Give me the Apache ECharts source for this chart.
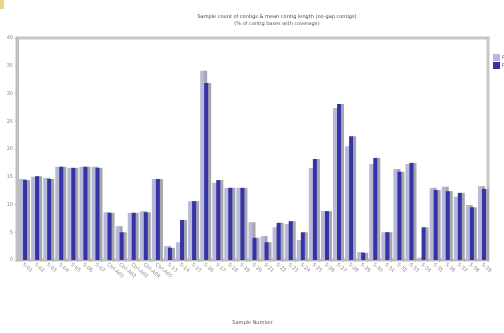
<!DOCTYPE html>
<html>
<head>
<meta charset="utf-8">
<script src="https://cdn.jsdelivr.net/npm/echarts@6/dist/echarts.min.js"></script>
<style>
  html, body { margin: 0; padding: 0; background: #ffffff; }
  #chart { width: 504px; height: 333px; }
</style>
</head>
<body>
<div id="chart"></div>
<script>
// Sample identifiers along the x axis
const categories = [
  'S-01', 'S-02', 'S-03', 'S-04', 'S-05', 'S-06', 'S-07',
  'Ctrl-A01', 'Ctrl-A02', 'Ctrl-A03', 'Ctrl-A04', 'Ctrl-A05',
  'S-13', 'S-14', 'S-15', 'S-16', 'S-17', 'S-18', 'S-19', 'S-20',
  'S-21', 'S-22', 'S-23', 'S-24', 'S-25', 'S-26', 'S-27', 'S-28',
  'S-29', 'S-30', 'S-31', 'S-32', 'S-33', 'S-34', 'S-35', 'S-36',
  'S-37', 'S-38', 'S-39'
];

// Values per sample for the two runs
const run1 = [
  14.6, 15.0, 14.8, 16.8, 16.6, 16.8, 16.8, 8.6, 6.1, 8.5, 8.8, 14.6,
  2.5, 3.2, 10.6, 34.1, 13.9, 13.0, 13.0, 6.8, 4.3, 5.9, 6.5, 3.6,
  16.6, 8.8, 27.4, 20.5, 1.4, 17.3, 5.0, 16.4, 17.3, 0.4, 13.0, 13.2,
  11.4, 9.9, 13.3
];
const run2 = [
  14.4, 15.1, 14.6, 16.8, 16.6, 16.8, 16.6, 8.5, 5.0, 8.5, 8.6, 14.6,
  2.2, 7.2, 10.6, 31.9, 14.4, 13.0, 13.0, 4.0, 3.2, 6.7, 7.0, 5.0,
  18.2, 8.8, 28.1, 22.3, 1.3, 18.4, 5.0, 15.9, 17.5, 5.9, 12.6, 12.4,
  12.1, 9.5, 12.8
];

// Value axis ticks
const yTicks = [0, 5, 10, 15, 20, 25, 30, 35, 40];

const chart = echarts.init(document.getElementById('chart'), null, { renderer: 'canvas' });

chart.setOption({
  animation: false,
  backgroundColor: '#ffffff',
  textStyle: { fontFamily: 'DejaVu Sans' },
  title: {
    text: 'Sample count of contigs & mean contig length (no-gap contigs)',
    subtext: '(% of contig bases with coverage)',
    left: 272,
    top: 9,
    textAlign: 'center',
    itemGap: 2,
    textStyle: { fontSize: 5, fontWeight: 'normal', color: '#444' },
    subtextStyle: { fontSize: 5, color: '#555' }
  },
  legend: {
    orient: 'vertical',
    left: 488,
    top: 49,
    itemWidth: 7,
    itemHeight: 7,
    itemGap: 1,
    icon: 'rect',
    textStyle: { fontSize: 5, color: '#666', padding: [0, 0, 0, -3] },
    data: ['Run 1', 'Run 2']
  },
  grid: {
    left: 17,
    right: 16,
    top: 38,
    bottom: 73,
    show: true,
    borderColor: '#c6c6c6',
    borderWidth: 3,
    backgroundColor: '#ffffff'
  },
  xAxis: {
    type: 'category',
    data: categories,
    name: 'Sample Number',
    nameLocation: 'middle',
    nameGap: 60,
    nameTextStyle: { fontSize: 5, color: '#555' },
    axisLine: { lineStyle: { color: '#b8b8b8', width: 2 } },
    axisTick: { show: true, alignWithLabel: false, length: 2, lineStyle: { color: '#bbb' } },
    axisLabel: {
      interval: 0,
      rotate: -40,
      fontSize: 5,
      color: '#888',
      margin: 4
    }
  },
  yAxis: {
    type: 'value',
    min: yTicks[0],
    max: yTicks[yTicks.length - 1],
    interval: 5,
    splitLine: { show: false },
    axisLine: { show: true, lineStyle: { color: '#c0c0c0', width: 3 } },
    axisTick: { show: true, length: 2, lineStyle: { color: '#bbb' } },
    axisLabel: { fontSize: 5, color: '#888', margin: 4 }
  },
  series: [
    {
      name: 'Run 1',
      type: 'bar',
      data: run1,
      barWidth: 4,
      barGap: '0%',
      barCategoryGap: '30%',
      itemStyle: {
        color: '#b8b8da',
        shadowColor: '#a6a6ae',
        shadowOffsetX: 3,
        shadowBlur: 0
      }
    },
    {
      name: 'Run 2',
      type: 'bar',
      data: run2,
      barWidth: 4,
      itemStyle: {
        color: '#3434a6',
        shadowColor: '#a6a6ae',
        shadowOffsetX: 3,
        shadowBlur: 0
      }
    }
  ],
  graphic: [
    {
      type: 'rect',
      left: 0,
      top: 0,
      shape: { width: 4, height: 9 },
      style: { fill: '#e6d68a' }
    }
  ]
});
</script>
</body>
</html>
